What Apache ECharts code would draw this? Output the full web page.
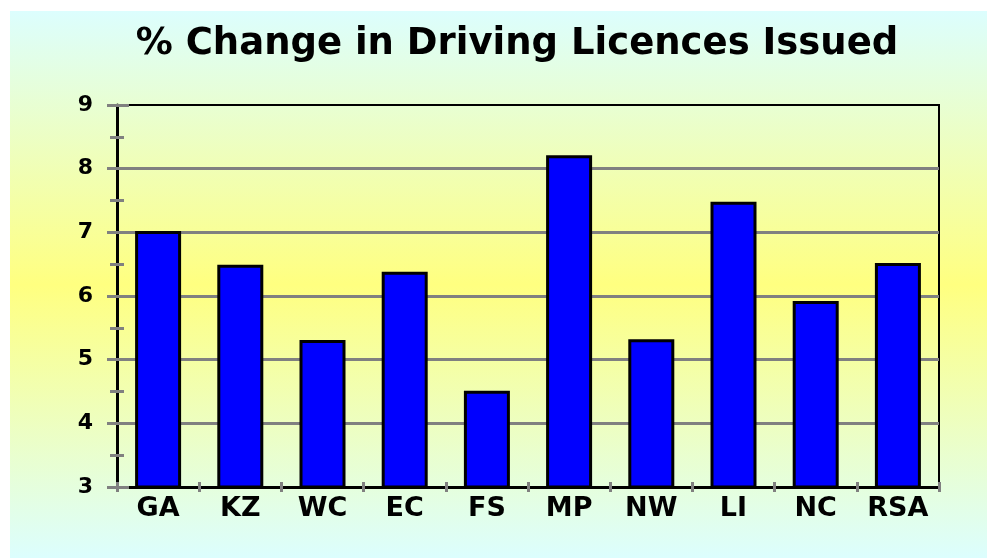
<!DOCTYPE html>
<html>
<head>
<meta charset="utf-8">
<script src="https://cdn.jsdelivr.net/npm/echarts@6/dist/echarts.min.js"></script>
<style>
  html, body { margin: 0; padding: 0; background: #fff; }
  #main { width: 987px; height: 558px; }
</style>
</head>
<body>
<div id="main"></div>
<script>
// data
const regions = ['GA', 'KZ', 'WC', 'EC', 'FS', 'MP', 'NW', 'LI', 'NC', 'RSA'];
const pctChange = [7.02, 6.49, 5.31, 6.38, 4.51, 8.21, 5.32, 7.48, 5.92, 6.52];
const yMin = 3;
const yMax = 9;

const chart = echarts.init(document.getElementById('main'));
const font = 'DejaVu Sans, Verdana, sans-serif';

const option = {
    backgroundColor: '#ffffff',
    animation: false,
    graphic: [
        {
            type: 'rect',
            z: -10,
            silent: true,
            shape: { x: 10, y: 11, width: 977, height: 547 },
            style: {
                fill: new echarts.graphic.LinearGradient(0, 0, 0, 1, [
                    { offset: 0, color: '#dcfefe' },
                    { offset: 0.5, color: '#ffff80' },
                    { offset: 1, color: '#dcfefe' }
                ])
            }
        },
        {
            // chart title
            type: 'text',
            x: 517,
            y: 44,
            silent: true,
            style: {
                text: '% Change in Driving Licences Issued',
                font: 'bold 37px ' + font,
                fill: '#000',
                align: 'center',
                verticalAlign: 'middle'
            }
        }
    ],
    grid: {
        left: 117,
        right: 48,
        top: 105,
        bottom: 71,
        show: true,
        borderColor: '#000',
        borderWidth: 2,
        backgroundColor: 'transparent'
    },
    xAxis: [
        {
            type: 'category',
            data: regions,
            axisLine: { lineStyle: { color: '#000', width: 3 } },
            axisTick: { show: true, length: 5, lineStyle: { color: '#808080', width: 3 } },
            axisLabel: {
                fontFamily: font,
                fontWeight: 'bold',
                fontSize: 27,
                color: '#000',
                margin: 8
            }
        },
        {
            type: 'category',
            data: regions,
            position: 'bottom',
            axisLine: { show: false },
            axisTick: { show: true, inside: true, length: 5, lineStyle: { color: '#808080', width: 3 } },
            axisLabel: { show: false }
        }
    ],
    yAxis: [
        {
            type: 'value',
            min: yMin,
            max: yMax,
            interval: 1,
            axisLine: { show: true, lineStyle: { color: '#000', width: 3 } },
            axisTick: { show: true, length: 10, lineStyle: { color: '#808080', width: 3 } },
            minorTick: { show: true, splitNumber: 2, length: 7, lineStyle: { color: '#808080', width: 3 } },
            splitLine: { show: true, showMaxLine: false, lineStyle: { color: '#808080', width: 3 } },
            axisLabel: {
                fontFamily: font,
                fontWeight: 'bold',
                fontSize: 22,
                color: '#000',
                margin: 24
            }
        },
        {
            type: 'value',
            min: yMin,
            max: yMax,
            interval: 1,
            position: 'left',
            axisLine: { show: false },
            axisTick: { show: true, inside: true, length: 12, lineStyle: { color: '#808080', width: 3 } },
            minorTick: { show: true, splitNumber: 2, length: 7, lineStyle: { color: '#808080', width: 3 } },
            splitLine: { show: false },
            axisLabel: { show: false }
        }
    ],
    series: [
        {
            name: '% change',
            type: 'bar',
            data: pctChange,
            barWidth: 46,
            itemStyle: {
                color: '#0000ff',
                borderColor: '#000',
                borderWidth: 3
            }
        }
    ]
};

chart.setOption(option);
</script>
</body>
</html>
